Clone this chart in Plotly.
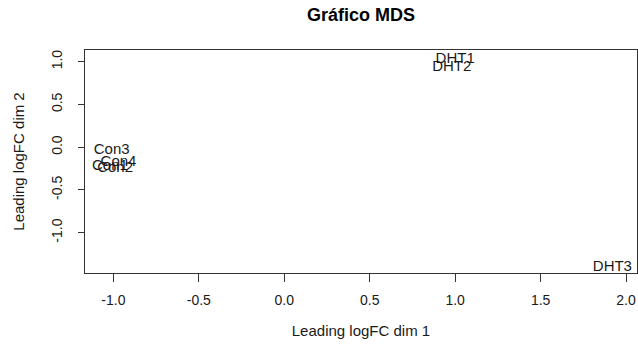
import plotly.graph_objects as go

labels = ["Con1", "Con2", "Con3", "Con4", "DHT1", "DHT2", "DHT3"]
dim1 = [-1.02, -0.99, -1.01, -0.97, 1.00, 0.98, 1.92]
dim2 = [-0.22, -0.25, -0.03, -0.18, 1.03, 0.94, -1.40]
x_ticks = [-1.0, -0.5, 0.0, 0.5, 1.0, 1.5, 2.0]
y_ticks = [-1.0, -0.5, 0.0, 0.5, 1.0]

FONT = "Liberation Sans, Arial, sans-serif"

fig = go.Figure()
fig.add_trace(go.Scatter(
    x=dim1, y=dim2, text=labels, mode="text",
    textposition="middle center",
    textfont=dict(family=FONT, size=15, color="#1a1a1a"),
    showlegend=False, hoverinfo="text",
))

fig.update_layout(
    width=638, height=347,
    margin=dict(l=85, r=1, t=50, b=74),
    paper_bgcolor="white", plot_bgcolor="white",
    title=dict(text="<b>Gráfico MDS</b>", x=(85 + 637) / 2 / 638, xanchor="center",
               y=1 - 15 / 347, yanchor="middle",
               font=dict(family=FONT, size=18, color="black")),
    font=dict(family=FONT, color="#1a1a1a"),
)
fig.update_xaxes(
    range=[-1.166, 2.064], tickvals=x_ticks, ticktext=[f"{v:.1f}" for v in x_ticks],
    showgrid=False, zeroline=False,
    showline=True, mirror=True, linecolor="#333", linewidth=1,
    ticks="outside", ticklen=8, tickcolor="#333", ticklabelstandoff=6,
    tickfont=dict(family=FONT, size=14, color="#1a1a1a"),
    title=dict(text="Leading logFC dim 1", font=dict(family=FONT, size=15, color="#1a1a1a"), standoff=18),
)
fig.update_yaxes(
    range=[-1.471, 1.137], tickvals=y_ticks, ticktext=[f"{v:.1f}" for v in y_ticks],
    showgrid=False, zeroline=False,
    showline=True, mirror=True, linecolor="#333", linewidth=1,
    ticks="outside", ticklen=6, tickcolor="#333", tickangle=-90, ticklabelstandoff=10,
    tickfont=dict(family=FONT, size=14, color="#1a1a1a"),
    title=dict(text="Leading logFC dim 2", font=dict(family=FONT, size=15, color="#1a1a1a"), standoff=21),
)

fig.write_html("out.html")
